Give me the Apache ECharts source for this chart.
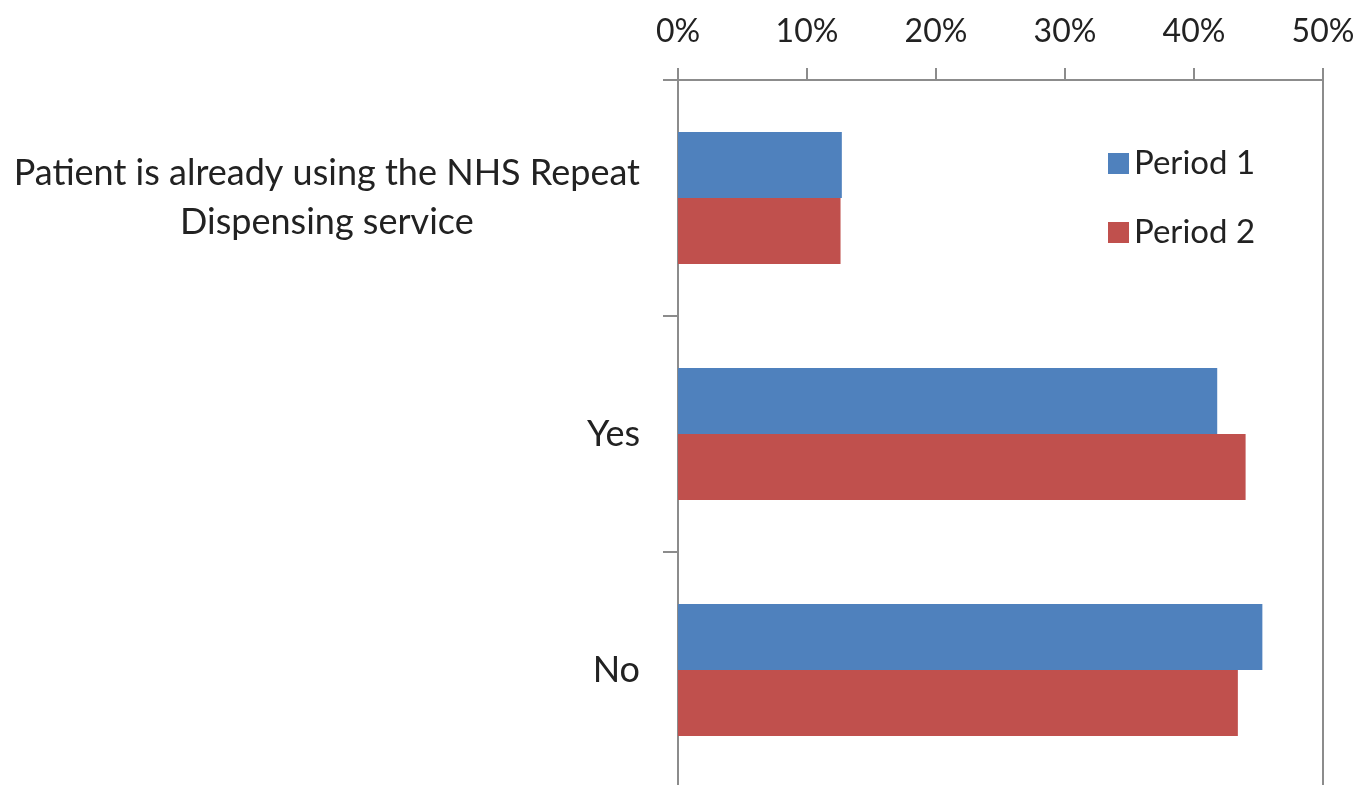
<!DOCTYPE html>
<html>
<head>
<meta charset="utf-8">
<script src="https://cdn.jsdelivr.net/npm/echarts@6/dist/echarts.min.js"></script>
<style>
  html, body { margin: 0; padding: 0; background: #fff; }
  #chart { width: 1361px; height: 785px; }
</style>
</head>
<body>
<div id="chart"></div>
<script>
const categories = [
  'Patient is already using the NHS Repeat\nDispensing service',
  'Yes',
  'No'
];
const period1 = [12.7, 41.8, 45.3];
const period2 = [12.6, 44.0, 43.4];
const xTicks = [0, 10, 20, 30, 40, 50];

const chart = echarts.init(document.getElementById('chart'));
const axisGrey = '#8c8c8c';
const font = 'Lato, "Open Sans", sans-serif';

chart.setOption({
  backgroundColor: '#fff',
  animation: false,
  textStyle: { fontFamily: font },
  legend: {
    orient: 'vertical',
    left: 1103,
    top: 142,
    itemWidth: 21,
    itemHeight: 21,
    itemGap: 36,
    icon: 'rect',
    textStyle: { fontSize: 33, color: '#222', fontFamily: font },
    data: ['Period 1', 'Period 2']
  },
  grid: {
    left: 678,
    top: 80,
    width: 645,
    height: 708,
    outerBoundsMode: 'none',
    containLabel: false,
    show: true,
    borderColor: axisGrey,
    borderWidth: 2
  },
  xAxis: {
    type: 'value',
    position: 'top',
    min: xTicks[0],
    max: xTicks[xTicks.length - 1],
    interval: 10,
    axisLine: { show: true, lineStyle: { color: axisGrey, width: 2 } },
    axisTick: { show: true, length: 12, lineStyle: { color: axisGrey, width: 2 } },
    splitLine: { show: false },
    axisLabel: {
      formatter: v => v + '%',
      fontSize: 32,
      color: '#222',
      margin: 32,
      fontFamily: font
    }
  },
  yAxis: {
    type: 'category',
    inverse: true,
    data: categories,
    axisLine: { show: true, lineStyle: { color: axisGrey, width: 2 } },
    axisTick: { show: true, length: 15, lineStyle: { color: axisGrey, width: 2 } },
    axisLabel: {
      margin: 38,
      align: 'right',
      formatter: v => v.split('\n').map(s => '{c|' + s + '}').join('\n'),
      rich: {
        c: {
          fontSize: 36,
          color: '#222',
          lineHeight: 49,
          align: 'center',
          fontFamily: font
        }
      }
    }
  },
  series: [
    {
      name: 'Period 1',
      type: 'bar',
      data: period1,
      barGap: '0%',
      barCategoryGap: '44%',
      itemStyle: { color: '#4F81BD' }
    },
    {
      name: 'Period 2',
      type: 'bar',
      data: period2,
      itemStyle: { color: '#C0504D' }
    }
  ]
});
</script>
</body>
</html>
